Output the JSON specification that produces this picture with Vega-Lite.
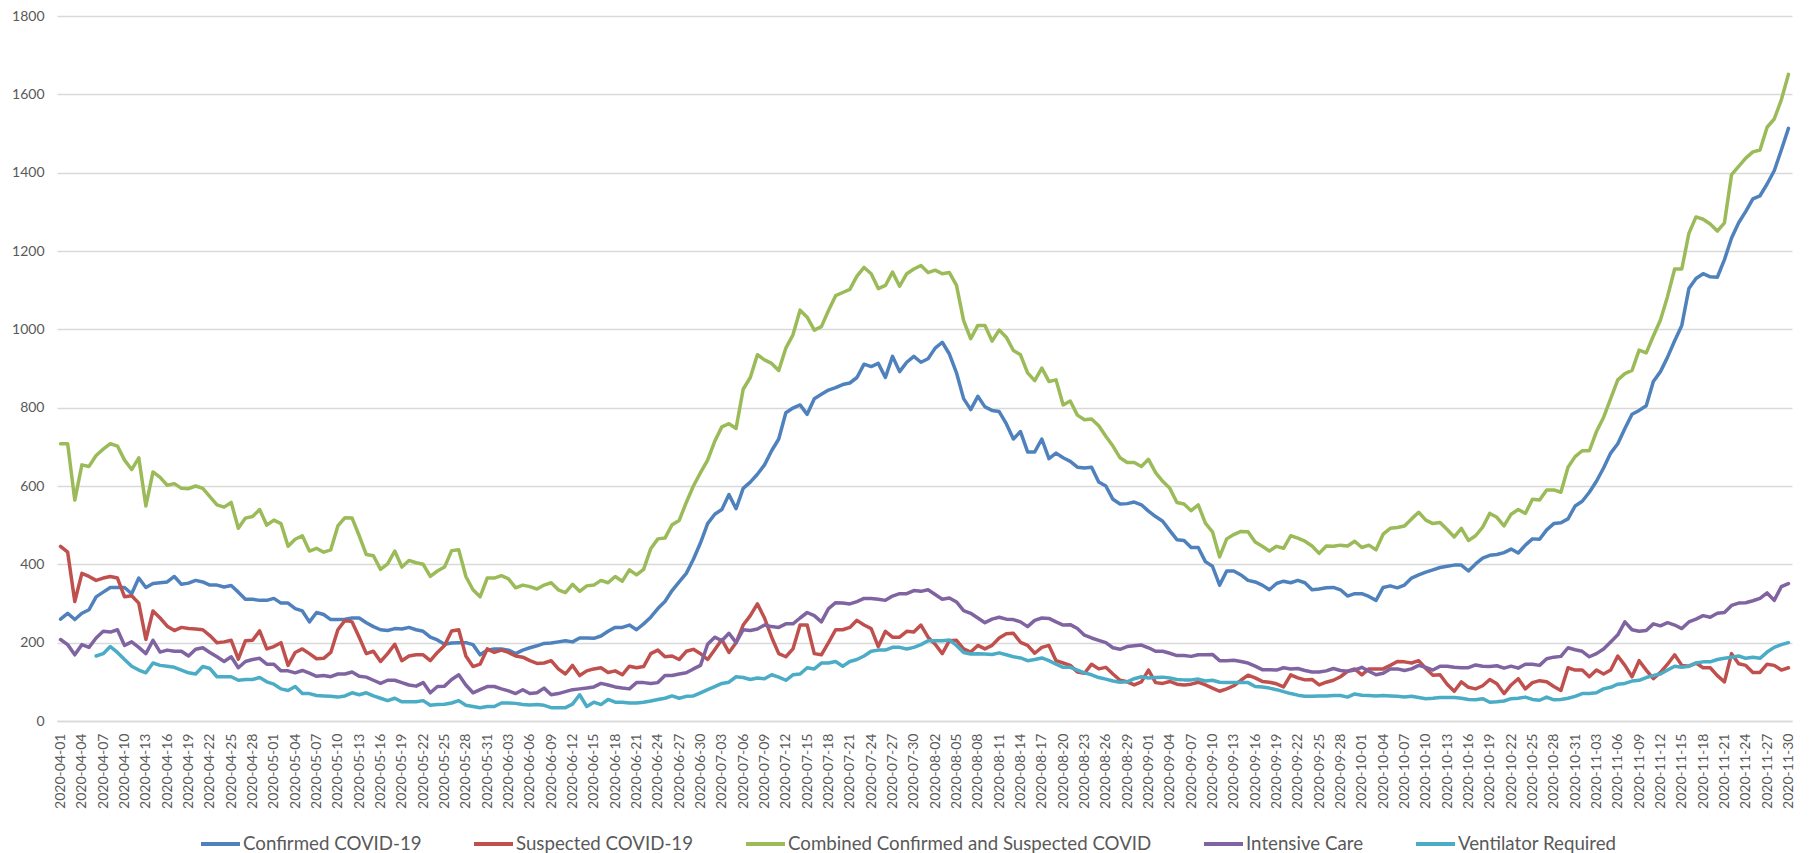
{
"$schema": "https://vega.github.io/schema/vega-lite/v6.json",
"width": 1735, "height": 705,
"autosize": {"type": "none"},
"padding": {"left": 57, "top": 16, "right": 17, "bottom": 132},
"background": "white",
"config": {"view": {"stroke": null}, "font": "Lato"},
"datasets": {
"names": [
{"k":"c","name":"Confirmed COVID-19"},
{"k":"s","name":"Suspected COVID-19"},
{"k":"b","name":"Combined Confirmed and Suspected COVID"},
{"k":"i","name":"Intensive Care"},
{"k":"v","name":"Ventilator Required"}
],
"rows": [
{"d":"2020-04-01","c":260,"s":446,"b":708,"i":208,"v":null},
{"d":"2020-04-02","c":275,"s":431,"b":708,"i":195,"v":null},
{"d":"2020-04-03","c":259,"s":305,"b":564,"i":169,"v":null},
{"d":"2020-04-04","c":275,"s":377,"b":654,"i":195,"v":null},
{"d":"2020-04-05","c":284,"s":369,"b":650,"i":188,"v":null},
{"d":"2020-04-06","c":317,"s":359,"b":678,"i":212,"v":166},
{"d":"2020-04-07","c":329,"s":365,"b":694,"i":229,"v":172},
{"d":"2020-04-08","c":341,"s":369,"b":708,"i":227,"v":190},
{"d":"2020-04-09","c":341,"s":365,"b":702,"i":233,"v":175},
{"d":"2020-04-10","c":341,"s":317,"b":666,"i":193,"v":157},
{"d":"2020-04-11","c":325,"s":320,"b":642,"i":202,"v":140},
{"d":"2020-04-12","c":365,"s":301,"b":672,"i":188,"v":130},
{"d":"2020-04-13","c":341,"s":208,"b":549,"i":172,"v":123},
{"d":"2020-04-14","c":351,"s":281,"b":636,"i":206,"v":148},
{"d":"2020-04-15","c":353,"s":263,"b":622,"i":176,"v":142},
{"d":"2020-04-16","c":355,"s":242,"b":602,"i":181,"v":140},
{"d":"2020-04-17","c":369,"s":231,"b":606,"i":178,"v":137},
{"d":"2020-04-18","c":349,"s":239,"b":594,"i":178,"v":130},
{"d":"2020-04-19","c":352,"s":236,"b":593,"i":166,"v":123},
{"d":"2020-04-20","c":359,"s":235,"b":600,"i":183,"v":120},
{"d":"2020-04-21","c":355,"s":233,"b":594,"i":187,"v":139},
{"d":"2020-04-22","c":347,"s":218,"b":573,"i":175,"v":134},
{"d":"2020-04-23","c":347,"s":200,"b":552,"i":164,"v":113},
{"d":"2020-04-24","c":342,"s":202,"b":546,"i":152,"v":113},
{"d":"2020-04-25","c":346,"s":206,"b":558,"i":164,"v":113},
{"d":"2020-04-26","c":329,"s":158,"b":492,"i":136,"v":104},
{"d":"2020-04-27","c":311,"s":205,"b":518,"i":152,"v":106},
{"d":"2020-04-28","c":311,"s":206,"b":522,"i":157,"v":106},
{"d":"2020-04-29","c":308,"s":230,"b":540,"i":160,"v":111},
{"d":"2020-04-30","c":308,"s":184,"b":500,"i":145,"v":100},
{"d":"2020-05-01","c":313,"s":190,"b":513,"i":145,"v":94},
{"d":"2020-05-02","c":301,"s":200,"b":504,"i":128,"v":82},
{"d":"2020-05-03","c":301,"s":142,"b":446,"i":128,"v":78},
{"d":"2020-05-04","c":287,"s":175,"b":464,"i":123,"v":88},
{"d":"2020-05-05","c":281,"s":184,"b":473,"i":129,"v":70},
{"d":"2020-05-06","c":253,"s":172,"b":434,"i":122,"v":70},
{"d":"2020-05-07","c":277,"s":159,"b":441,"i":114,"v":65},
{"d":"2020-05-08","c":272,"s":160,"b":431,"i":116,"v":64},
{"d":"2020-05-09","c":259,"s":175,"b":437,"i":113,"v":63},
{"d":"2020-05-10","c":259,"s":233,"b":498,"i":120,"v":61},
{"d":"2020-05-11","c":260,"s":257,"b":519,"i":120,"v":64},
{"d":"2020-05-12","c":263,"s":253,"b":518,"i":125,"v":72},
{"d":"2020-05-13","c":263,"s":214,"b":473,"i":114,"v":67},
{"d":"2020-05-14","c":251,"s":172,"b":425,"i":112,"v":72},
{"d":"2020-05-15","c":241,"s":178,"b":422,"i":104,"v":64},
{"d":"2020-05-16","c":233,"s":152,"b":387,"i":96,"v":58},
{"d":"2020-05-17","c":231,"s":172,"b":401,"i":104,"v":52},
{"d":"2020-05-18","c":236,"s":196,"b":434,"i":104,"v":58},
{"d":"2020-05-19","c":235,"s":154,"b":393,"i":98,"v":49},
{"d":"2020-05-20","c":239,"s":166,"b":410,"i":92,"v":49},
{"d":"2020-05-21","c":233,"s":169,"b":404,"i":89,"v":49},
{"d":"2020-05-22","c":229,"s":169,"b":400,"i":98,"v":52},
{"d":"2020-05-23","c":214,"s":154,"b":369,"i":72,"v":40},
{"d":"2020-05-24","c":207,"s":175,"b":383,"i":88,"v":42},
{"d":"2020-05-25","c":196,"s":193,"b":393,"i":89,"v":43},
{"d":"2020-05-26","c":199,"s":230,"b":435,"i":106,"v":46},
{"d":"2020-05-27","c":200,"s":233,"b":437,"i":118,"v":52},
{"d":"2020-05-28","c":200,"s":166,"b":369,"i":92,"v":40},
{"d":"2020-05-29","c":195,"s":139,"b":335,"i":72,"v":37},
{"d":"2020-05-30","c":169,"s":145,"b":317,"i":80,"v":34},
{"d":"2020-05-31","c":181,"s":184,"b":365,"i":88,"v":37},
{"d":"2020-06-01","c":184,"s":175,"b":365,"i":88,"v":37},
{"d":"2020-06-02","c":184,"s":181,"b":371,"i":82,"v":46},
{"d":"2020-06-03","c":181,"s":175,"b":363,"i":77,"v":46},
{"d":"2020-06-04","c":172,"s":166,"b":340,"i":70,"v":45},
{"d":"2020-06-05","c":181,"s":163,"b":347,"i":80,"v":42},
{"d":"2020-06-06","c":187,"s":154,"b":343,"i":70,"v":41},
{"d":"2020-06-07","c":192,"s":147,"b":337,"i":72,"v":42},
{"d":"2020-06-08","c":198,"s":148,"b":347,"i":84,"v":40},
{"d":"2020-06-09","c":199,"s":154,"b":353,"i":67,"v":34},
{"d":"2020-06-10","c":202,"s":133,"b":335,"i":70,"v":34},
{"d":"2020-06-11","c":205,"s":120,"b":328,"i":75,"v":34},
{"d":"2020-06-12","c":202,"s":142,"b":349,"i":80,"v":43},
{"d":"2020-06-13","c":212,"s":116,"b":331,"i":82,"v":67},
{"d":"2020-06-14","c":212,"s":128,"b":345,"i":84,"v":37},
{"d":"2020-06-15","c":211,"s":133,"b":347,"i":87,"v":48},
{"d":"2020-06-16","c":217,"s":136,"b":359,"i":96,"v":42},
{"d":"2020-06-17","c":229,"s":124,"b":353,"i":92,"v":55},
{"d":"2020-06-18","c":239,"s":128,"b":369,"i":87,"v":48},
{"d":"2020-06-19","c":239,"s":118,"b":357,"i":84,"v":48},
{"d":"2020-06-20","c":245,"s":140,"b":386,"i":82,"v":46},
{"d":"2020-06-21","c":233,"s":136,"b":373,"i":98,"v":46},
{"d":"2020-06-22","c":248,"s":139,"b":387,"i":98,"v":48},
{"d":"2020-06-23","c":265,"s":172,"b":440,"i":96,"v":51},
{"d":"2020-06-24","c":287,"s":181,"b":465,"i":98,"v":55},
{"d":"2020-06-25","c":305,"s":164,"b":467,"i":116,"v":58},
{"d":"2020-06-26","c":333,"s":166,"b":501,"i":116,"v":64},
{"d":"2020-06-27","c":355,"s":157,"b":512,"i":120,"v":58},
{"d":"2020-06-28","c":377,"s":178,"b":558,"i":123,"v":63},
{"d":"2020-06-29","c":413,"s":183,"b":600,"i":133,"v":64},
{"d":"2020-06-30","c":455,"s":172,"b":634,"i":142,"v":72},
{"d":"2020-07-01","c":504,"s":157,"b":666,"i":196,"v":80},
{"d":"2020-07-02","c":528,"s":182,"b":714,"i":214,"v":88},
{"d":"2020-07-03","c":540,"s":208,"b":751,"i":205,"v":96},
{"d":"2020-07-04","c":578,"s":175,"b":759,"i":224,"v":99},
{"d":"2020-07-05","c":542,"s":200,"b":747,"i":200,"v":113},
{"d":"2020-07-06","c":594,"s":245,"b":847,"i":233,"v":111},
{"d":"2020-07-07","c":610,"s":269,"b":877,"i":231,"v":106},
{"d":"2020-07-08","c":630,"s":299,"b":935,"i":235,"v":110},
{"d":"2020-07-09","c":654,"s":263,"b":922,"i":245,"v":108},
{"d":"2020-07-10","c":690,"s":214,"b":913,"i":241,"v":118},
{"d":"2020-07-11","c":720,"s":172,"b":895,"i":239,"v":112},
{"d":"2020-07-12","c":787,"s":164,"b":952,"i":248,"v":104},
{"d":"2020-07-13","c":799,"s":184,"b":986,"i":248,"v":118},
{"d":"2020-07-14","c":807,"s":245,"b":1049,"i":263,"v":120},
{"d":"2020-07-15","c":783,"s":245,"b":1031,"i":277,"v":136},
{"d":"2020-07-16","c":823,"s":172,"b":998,"i":269,"v":133},
{"d":"2020-07-17","c":834,"s":169,"b":1007,"i":253,"v":148},
{"d":"2020-07-18","c":845,"s":200,"b":1048,"i":287,"v":148},
{"d":"2020-07-19","c":851,"s":233,"b":1086,"i":302,"v":152},
{"d":"2020-07-20","c":859,"s":233,"b":1094,"i":301,"v":140},
{"d":"2020-07-21","c":863,"s":239,"b":1102,"i":299,"v":152},
{"d":"2020-07-22","c":877,"s":257,"b":1136,"i":305,"v":157},
{"d":"2020-07-23","c":911,"s":245,"b":1158,"i":313,"v":166},
{"d":"2020-07-24","c":905,"s":236,"b":1142,"i":313,"v":178},
{"d":"2020-07-25","c":913,"s":190,"b":1104,"i":311,"v":181},
{"d":"2020-07-26","c":877,"s":229,"b":1112,"i":308,"v":181},
{"d":"2020-07-27","c":931,"s":214,"b":1146,"i":319,"v":188},
{"d":"2020-07-28","c":892,"s":214,"b":1110,"i":325,"v":188},
{"d":"2020-07-29","c":916,"s":229,"b":1142,"i":325,"v":184},
{"d":"2020-07-30","c":931,"s":227,"b":1154,"i":333,"v":188},
{"d":"2020-07-31","c":916,"s":245,"b":1163,"i":331,"v":195},
{"d":"2020-08-01","c":925,"s":214,"b":1145,"i":335,"v":205},
{"d":"2020-08-02","c":952,"s":196,"b":1151,"i":323,"v":205},
{"d":"2020-08-03","c":967,"s":172,"b":1142,"i":311,"v":205},
{"d":"2020-08-04","c":937,"s":205,"b":1145,"i":314,"v":207},
{"d":"2020-08-05","c":889,"s":206,"b":1112,"i":304,"v":193},
{"d":"2020-08-06","c":823,"s":184,"b":1022,"i":282,"v":175},
{"d":"2020-08-07","c":795,"s":176,"b":976,"i":275,"v":171},
{"d":"2020-08-08","c":829,"s":193,"b":1010,"i":263,"v":172},
{"d":"2020-08-09","c":802,"s":184,"b":1010,"i":251,"v":171},
{"d":"2020-08-10","c":793,"s":193,"b":970,"i":260,"v":170},
{"d":"2020-08-11","c":790,"s":212,"b":998,"i":265,"v":174},
{"d":"2020-08-12","c":759,"s":223,"b":980,"i":260,"v":169},
{"d":"2020-08-13","c":720,"s":224,"b":946,"i":259,"v":164},
{"d":"2020-08-14","c":739,"s":201,"b":935,"i":253,"v":161},
{"d":"2020-08-15","c":687,"s":193,"b":889,"i":241,"v":154},
{"d":"2020-08-16","c":687,"s":173,"b":869,"i":257,"v":157},
{"d":"2020-08-17","c":720,"s":188,"b":901,"i":263,"v":161},
{"d":"2020-08-18","c":670,"s":193,"b":867,"i":262,"v":154},
{"d":"2020-08-19","c":684,"s":154,"b":871,"i":253,"v":145},
{"d":"2020-08-20","c":672,"s":148,"b":807,"i":245,"v":137},
{"d":"2020-08-21","c":663,"s":142,"b":817,"i":246,"v":137},
{"d":"2020-08-22","c":648,"s":125,"b":781,"i":236,"v":130},
{"d":"2020-08-23","c":646,"s":122,"b":769,"i":219,"v":123},
{"d":"2020-08-24","c":648,"s":145,"b":771,"i":212,"v":118},
{"d":"2020-08-25","c":610,"s":133,"b":754,"i":206,"v":111},
{"d":"2020-08-26","c":600,"s":137,"b":727,"i":200,"v":107},
{"d":"2020-08-27","c":566,"s":120,"b":702,"i":187,"v":102},
{"d":"2020-08-28","c":554,"s":104,"b":672,"i":183,"v":99},
{"d":"2020-08-29","c":555,"s":100,"b":660,"i":190,"v":100},
{"d":"2020-08-30","c":559,"s":92,"b":660,"i":192,"v":108},
{"d":"2020-08-31","c":552,"s":100,"b":650,"i":194,"v":113},
{"d":"2020-09-01","c":536,"s":130,"b":668,"i":187,"v":110},
{"d":"2020-09-02","c":522,"s":98,"b":634,"i":178,"v":111},
{"d":"2020-09-03","c":510,"s":96,"b":612,"i":178,"v":112},
{"d":"2020-09-04","c":486,"s":101,"b":594,"i":173,"v":110},
{"d":"2020-09-05","c":463,"s":94,"b":558,"i":167,"v":106},
{"d":"2020-09-06","c":461,"s":92,"b":554,"i":167,"v":105},
{"d":"2020-09-07","c":443,"s":94,"b":537,"i":165,"v":105},
{"d":"2020-09-08","c":443,"s":99,"b":552,"i":169,"v":107},
{"d":"2020-09-09","c":407,"s":92,"b":505,"i":169,"v":102},
{"d":"2020-09-10","c":395,"s":84,"b":483,"i":170,"v":104},
{"d":"2020-09-11","c":347,"s":76,"b":419,"i":154,"v":99},
{"d":"2020-09-12","c":383,"s":82,"b":465,"i":154,"v":98},
{"d":"2020-09-13","c":383,"s":90,"b":476,"i":155,"v":98},
{"d":"2020-09-14","c":373,"s":104,"b":484,"i":152,"v":98},
{"d":"2020-09-15","c":359,"s":117,"b":483,"i":148,"v":98},
{"d":"2020-09-16","c":355,"s":110,"b":457,"i":140,"v":88},
{"d":"2020-09-17","c":347,"s":101,"b":446,"i":131,"v":87},
{"d":"2020-09-18","c":335,"s":99,"b":434,"i":131,"v":84},
{"d":"2020-09-19","c":351,"s":95,"b":446,"i":130,"v":80},
{"d":"2020-09-20","c":357,"s":87,"b":441,"i":136,"v":75},
{"d":"2020-09-21","c":353,"s":118,"b":473,"i":133,"v":70},
{"d":"2020-09-22","c":359,"s":110,"b":467,"i":134,"v":66},
{"d":"2020-09-23","c":353,"s":105,"b":459,"i":129,"v":63},
{"d":"2020-09-24","c":335,"s":106,"b":447,"i":125,"v":63},
{"d":"2020-09-25","c":337,"s":92,"b":428,"i":125,"v":64},
{"d":"2020-09-26","c":340,"s":99,"b":447,"i":128,"v":64},
{"d":"2020-09-27","c":341,"s":104,"b":446,"i":134,"v":65},
{"d":"2020-09-28","c":335,"s":113,"b":449,"i":129,"v":65},
{"d":"2020-09-29","c":319,"s":127,"b":447,"i":127,"v":61},
{"d":"2020-09-30","c":325,"s":133,"b":459,"i":130,"v":69},
{"d":"2020-10-01","c":325,"s":118,"b":443,"i":137,"v":66},
{"d":"2020-10-02","c":318,"s":133,"b":449,"i":127,"v":65},
{"d":"2020-10-03","c":308,"s":133,"b":437,"i":118,"v":64},
{"d":"2020-10-04","c":341,"s":133,"b":477,"i":122,"v":65},
{"d":"2020-10-05","c":345,"s":142,"b":492,"i":133,"v":64},
{"d":"2020-10-06","c":340,"s":152,"b":494,"i":133,"v":63},
{"d":"2020-10-07","c":347,"s":151,"b":498,"i":129,"v":61},
{"d":"2020-10-08","c":365,"s":148,"b":516,"i":133,"v":63},
{"d":"2020-10-09","c":373,"s":154,"b":533,"i":142,"v":60},
{"d":"2020-10-10","c":380,"s":134,"b":513,"i":137,"v":57},
{"d":"2020-10-11","c":386,"s":117,"b":504,"i":130,"v":58},
{"d":"2020-10-12","c":392,"s":118,"b":507,"i":140,"v":60},
{"d":"2020-10-13","c":395,"s":94,"b":489,"i":140,"v":60},
{"d":"2020-10-14","c":398,"s":76,"b":470,"i":137,"v":60},
{"d":"2020-10-15","c":398,"s":100,"b":492,"i":136,"v":58},
{"d":"2020-10-16","c":383,"s":86,"b":461,"i":136,"v":55},
{"d":"2020-10-17","c":401,"s":82,"b":473,"i":143,"v":54},
{"d":"2020-10-18","c":416,"s":90,"b":495,"i":140,"v":57},
{"d":"2020-10-19","c":423,"s":106,"b":530,"i":139,"v":48},
{"d":"2020-10-20","c":425,"s":95,"b":520,"i":141,"v":49},
{"d":"2020-10-21","c":430,"s":70,"b":498,"i":135,"v":51},
{"d":"2020-10-22","c":439,"s":92,"b":528,"i":140,"v":57},
{"d":"2020-10-23","c":429,"s":108,"b":540,"i":135,"v":58},
{"d":"2020-10-24","c":449,"s":82,"b":530,"i":145,"v":61},
{"d":"2020-10-25","c":465,"s":98,"b":566,"i":145,"v":55},
{"d":"2020-10-26","c":464,"s":103,"b":564,"i":142,"v":53},
{"d":"2020-10-27","c":488,"s":100,"b":590,"i":159,"v":61},
{"d":"2020-10-28","c":504,"s":88,"b":590,"i":163,"v":54},
{"d":"2020-10-29","c":506,"s":78,"b":584,"i":165,"v":55},
{"d":"2020-10-30","c":516,"s":136,"b":648,"i":187,"v":58},
{"d":"2020-10-31","c":549,"s":130,"b":675,"i":182,"v":63},
{"d":"2020-11-01","c":561,"s":130,"b":690,"i":178,"v":70},
{"d":"2020-11-02","c":584,"s":113,"b":690,"i":164,"v":70},
{"d":"2020-11-03","c":612,"s":130,"b":739,"i":172,"v":72},
{"d":"2020-11-04","c":646,"s":120,"b":775,"i":184,"v":82},
{"d":"2020-11-05","c":684,"s":130,"b":823,"i":202,"v":86},
{"d":"2020-11-06","c":708,"s":166,"b":871,"i":220,"v":94},
{"d":"2020-11-07","c":747,"s":142,"b":887,"i":253,"v":96},
{"d":"2020-11-08","c":783,"s":113,"b":895,"i":233,"v":102},
{"d":"2020-11-09","c":793,"s":154,"b":947,"i":229,"v":104},
{"d":"2020-11-10","c":805,"s":130,"b":940,"i":231,"v":111},
{"d":"2020-11-11","c":867,"s":108,"b":983,"i":248,"v":116},
{"d":"2020-11-12","c":892,"s":124,"b":1024,"i":243,"v":120},
{"d":"2020-11-13","c":929,"s":145,"b":1084,"i":251,"v":130},
{"d":"2020-11-14","c":971,"s":169,"b":1154,"i":245,"v":140},
{"d":"2020-11-15","c":1010,"s":142,"b":1154,"i":236,"v":137},
{"d":"2020-11-16","c":1104,"s":140,"b":1245,"i":253,"v":140},
{"d":"2020-11-17","c":1130,"s":148,"b":1287,"i":260,"v":148},
{"d":"2020-11-18","c":1142,"s":136,"b":1281,"i":269,"v":151},
{"d":"2020-11-19","c":1134,"s":136,"b":1269,"i":265,"v":151},
{"d":"2020-11-20","c":1133,"s":116,"b":1251,"i":275,"v":157},
{"d":"2020-11-21","c":1178,"s":100,"b":1272,"i":277,"v":160},
{"d":"2020-11-22","c":1233,"s":172,"b":1395,"i":295,"v":163},
{"d":"2020-11-23","c":1272,"s":146,"b":1416,"i":301,"v":166},
{"d":"2020-11-24","c":1301,"s":142,"b":1437,"i":302,"v":160},
{"d":"2020-11-25","c":1333,"s":124,"b":1453,"i":307,"v":163},
{"d":"2020-11-26","c":1341,"s":124,"b":1458,"i":313,"v":160},
{"d":"2020-11-27","c":1371,"s":145,"b":1516,"i":327,"v":176},
{"d":"2020-11-28","c":1405,"s":142,"b":1537,"i":308,"v":188},
{"d":"2020-11-29","c":1458,"s":130,"b":1586,"i":343,"v":195},
{"d":"2020-11-30","c":1513,"s":136,"b":1651,"i":351,"v":200}
]
},
"data": {"name": "rows"},
"transform": [
{"fold": ["c", "s", "b", "i", "v"], "as": ["series", "value"]},
{"lookup": "series", "from": {"data": {"name": "names"}, "key": "k", "fields": ["name"]}}
],
"mark": {"type": "line", "strokeWidth": 3.5, "strokeJoin": "round", "strokeCap": "round"},
"encoding": {
"x": {"field": "d", "type": "ordinal", "sort": null,
"scale": {"type": "point", "padding": 0.5},
"axis": {"title": null, "labelAngle": -90, "labelFontSize": 14, "labelColor": "#595959", "labelPadding": 12, "ticks": false, "grid": false, "domainColor": "#d9d9d9", "domainWidth": 1.5, "labelOverlap": false,
"values": ["2020-04-01","2020-04-04","2020-04-07","2020-04-10","2020-04-13","2020-04-16","2020-04-19","2020-04-22","2020-04-25","2020-04-28","2020-05-01","2020-05-04","2020-05-07","2020-05-10","2020-05-13","2020-05-16","2020-05-19","2020-05-22","2020-05-25","2020-05-28","2020-05-31","2020-06-03","2020-06-06","2020-06-09","2020-06-12","2020-06-15","2020-06-18","2020-06-21","2020-06-24","2020-06-27","2020-06-30","2020-07-03","2020-07-06","2020-07-09","2020-07-12","2020-07-15","2020-07-18","2020-07-21","2020-07-24","2020-07-27","2020-07-30","2020-08-02","2020-08-05","2020-08-08","2020-08-11","2020-08-14","2020-08-17","2020-08-20","2020-08-23","2020-08-26","2020-08-29","2020-09-01","2020-09-04","2020-09-07","2020-09-10","2020-09-13","2020-09-16","2020-09-19","2020-09-22","2020-09-25","2020-09-28","2020-10-01","2020-10-04","2020-10-07","2020-10-10","2020-10-13","2020-10-16","2020-10-19","2020-10-22","2020-10-25","2020-10-28","2020-10-31","2020-11-03","2020-11-06","2020-11-09","2020-11-12","2020-11-15","2020-11-18","2020-11-21","2020-11-24","2020-11-27","2020-11-30"]}},
"y": {"field": "value", "type": "quantitative",
"scale": {"domain": [0, 1800], "nice": false},
"axis": {"title": null, "format": "d", "values": [0,200,400,600,800,1000,1200,1400,1600,1800], "domain": false, "ticks": false, "grid": true, "gridColor": "#d9d9d9", "gridWidth": 1.3, "labelFontSize": 14, "labelColor": "#595959", "labelPadding": 13}},
"color": {"field": "name", "type": "nominal",
"scale": {"domain": ["Confirmed COVID-19","Suspected COVID-19","Combined Confirmed and Suspected COVID","Intensive Care","Ventilator Required"],
"range": ["#4F81BD","#C0504D","#9BBB59","#8064A2","#4BACC6"]},
"legend": {"title": null, "orient": "none", "legendX": 142, "legendY": 806, "direction": "horizontal", "padding": 0,
"symbolType": "stroke", "symbolSize": 1521, "symbolStrokeWidth": 4, "labelOffset": 1,
"labelFontSize": 18.7, "labelColor": "#595959", "labelLimit": 600, "columnPadding": 44}}
}
}
